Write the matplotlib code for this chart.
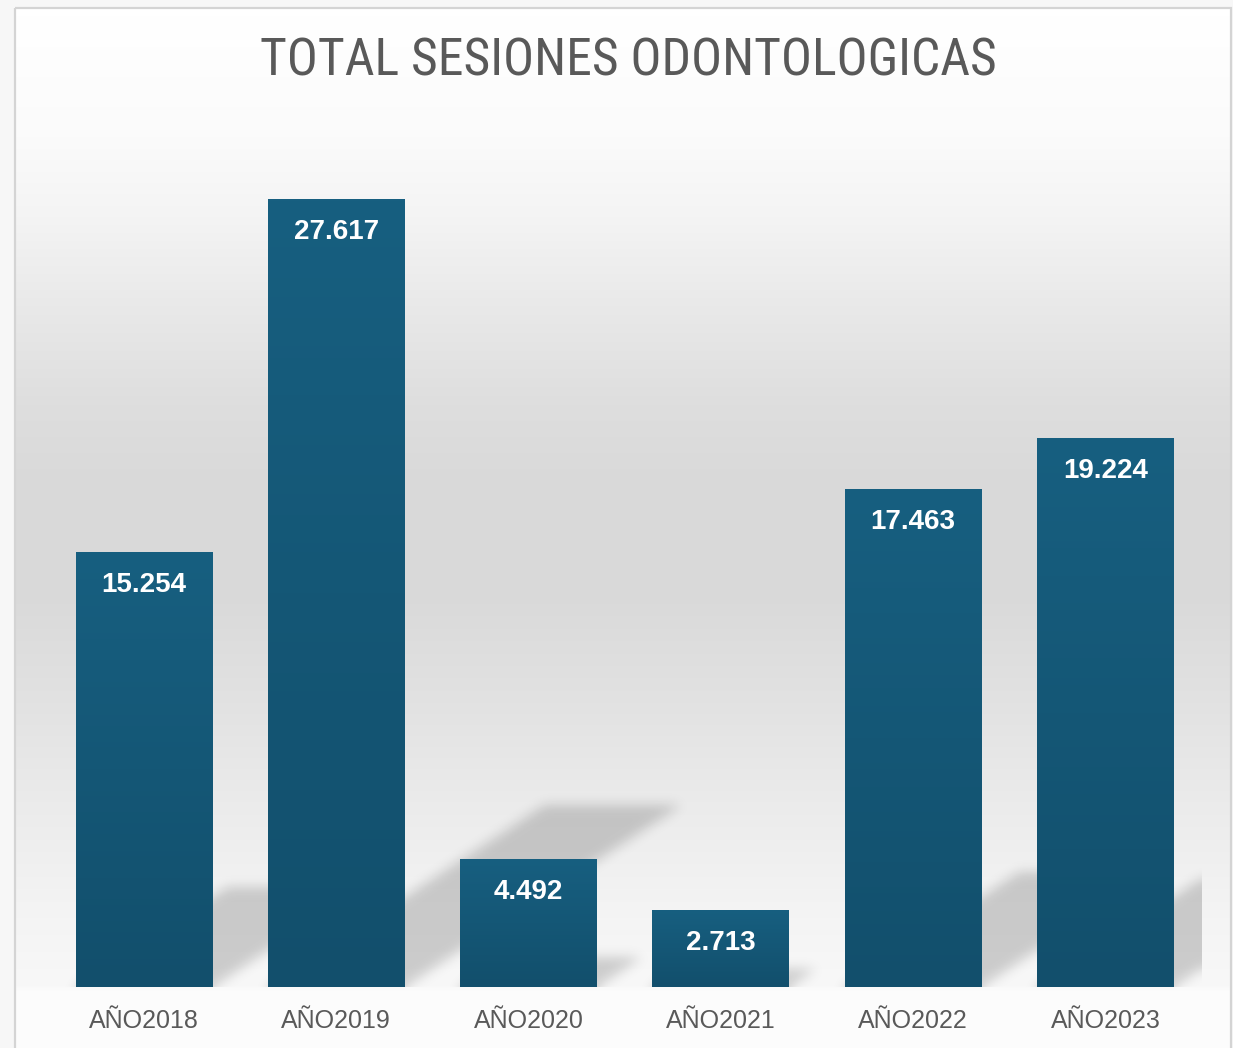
import numpy as np
import matplotlib
matplotlib.use('Agg')
import matplotlib.pyplot as plt
from matplotlib.patches import Rectangle
from matplotlib.colors import LinearSegmentedColormap
from matplotlib import font_manager as fm

# ---- data ----
categories = ['AÑO2018', 'AÑO2019', 'AÑO2020', 'AÑO2021', 'AÑO2022', 'AÑO2023']
sessions = [15254, 27617, 4492, 2713, 17463, 19224]
value_labels = ['15.254', '27.617', '4.492', '2.713', '17.463', '19.224']
title = 'TOTAL SESIONES ODONTOLOGICAS'

W, H = 1233, 1048
fig = plt.figure(figsize=(W / 100, H / 100), dpi=100)
fig.patch.set_facecolor('#f7f7f7')

# ---- background gradient + frame ----
bg = fig.add_axes([0, 0, 1, 1], zorder=-10)
ys = np.arange(H)
stops_y = [8, 130, 210, 300, 400, 480, 600, 700, 800, 900, 985, 990, 1048]
stops_g = [255, 251, 244, 233, 222, 217, 218, 226, 235, 243, 248, 252, 253]
g = np.interp(ys, stops_y, stops_g) / 255.0
img = np.repeat(g[:, None], 2, axis=1)
bg.imshow(np.dstack([img, img, img]), extent=(15, 1231, 1048, 8), aspect='auto',
          interpolation='bilinear')
bg.add_patch(Rectangle((15, 8), 1216, 1045, fill=False, ec='#d4d4d4', lw=1.6))
bg.set_xlim(0, W)
bg.set_ylim(H, 0)
bg.axis('off')

# ---- main axes ----
x0, x1 = 47.85, 1201.6
ytop, ybot = 131, 987
ax = fig.add_axes([x0 / W, (H - ybot) / H, (x1 - x0) / W, (ybot - ytop) / H])
ymax = 30000
ax.set_xlim(-0.5, 5.5)
ax.set_ylim(0, ymax)
ax.patch.set_alpha(0)
for s in ax.spines.values():
    s.set_visible(False)
ax.set_yticks([])

bw = 0.712
xpos = np.arange(len(categories))

# ---- diagonal soft shadows (computed from the values) ----
nx, ny = int(x1 - x0), int(ybot - ytop)
xs = np.linspace(-0.5, 5.5, nx)
yv = np.linspace(ymax, 0, ny)
XX, YY = np.meshgrid(xs, yv)
px_per_val = ny / ymax
px_per_cat = nx / 6.0
sy = 0.23
sx = 0.35 * px_per_val / px_per_cat
mask = np.zeros_like(XX)
for i, v in zip(xpos, sessions):
    t = YY / sy
    xo = XX - sx * t
    inside = (t <= v) & (np.abs(xo - i) <= bw / 2)
    mask[inside] = 1.0

def blur(a, sigma):
    r = int(3 * sigma)
    k = np.exp(-0.5 * (np.arange(-r, r + 1) / sigma) ** 2)
    k /= k.sum()
    p = np.pad(a, r, mode='edge')
    p = np.apply_along_axis(lambda m: np.convolve(m, k, mode='same'), 1, p)
    p = np.apply_along_axis(lambda m: np.convolve(m, k, mode='same'), 0, p)
    return p[r:-r, r:-r]

mask = blur(mask, 6)
shadow = np.zeros((ny, nx, 4))
shadow[..., 3] = 0.175 * mask
ax.imshow(shadow, extent=(-0.5, 5.5, 0, ymax), aspect='auto', zorder=1,
          interpolation='bilinear')

# ---- bars with vertical gradient ----
bars = ax.bar(xpos, sessions, width=bw, color='none', edgecolor='none', zorder=2)
cmap = LinearSegmentedColormap.from_list('bar', ['#124f6c', '#175f80'])
grad = np.linspace(0, 1, 256)[:, None]
for b in bars:
    bx, by = b.get_x(), b.get_y()
    im = ax.imshow(grad, cmap=cmap, origin='lower', aspect='auto',
                   extent=(bx, bx + b.get_width(), by, by + b.get_height()), zorder=2)
    im.set_clip_path(b)

for i, (v, lbl) in enumerate(zip(sessions, value_labels)):
    ax.annotate(lbl, xy=(i, v), xytext=(0, -33), textcoords='offset pixels',
                ha='center', va='center', color='white', fontsize=20,
                fontweight='bold', family='Liberation Sans', zorder=5)

ax.set_xlim(-0.5, 5.5)
ax.set_ylim(0, ymax)
ax.set_xticks(xpos)
ax.set_xticklabels(categories, fontsize=18, color='#595959', family='Liberation Sans')
ax.tick_params(axis='x', length=0, pad=16)

# ---- title: prefer a narrow/condensed face, fit its width to the reference ----
def pick_title_font():
    prefs = ['Liberation Sans Narrow', 'Arial Narrow', 'Roboto Condensed',
             'Open Sans Condensed', 'Noto Sans', 'DejaVu Sans']
    cands = []
    for f in fm.fontManager.ttflist:
        narrow = ('Narrow' in f.name or 'Condensed' in f.name or
                  f.stretch in ('condensed', 'semi-condensed', 'extra-condensed'))
        if not narrow or f.style != 'normal':
            continue
        w = f.weight if isinstance(f.weight, int) else 400
        if w not in (400, 'normal'):
            continue
        rank = prefs.index(f.name) if f.name in prefs else len(prefs)
        cands.append((rank, f.fname))
    if cands:
        cands.sort()
        return fm.FontProperties(fname=cands[0][1])
    return fm.FontProperties(family='Liberation Sans')

tfp = pick_title_font()
tfp.set_size(34)
ttl = fig.text(628 / W, 1 - 62 / H, title, ha='center', va='center',
               color='#595959', fontproperties=tfp)
renderer = fig.canvas.get_renderer()
wpx = ttl.get_window_extent(renderer).width
size = 34 * 737.0 / wpx
size = min(size, 39)
ttl.set_fontsize(size)

fig.savefig('out.png', dpi=100)
